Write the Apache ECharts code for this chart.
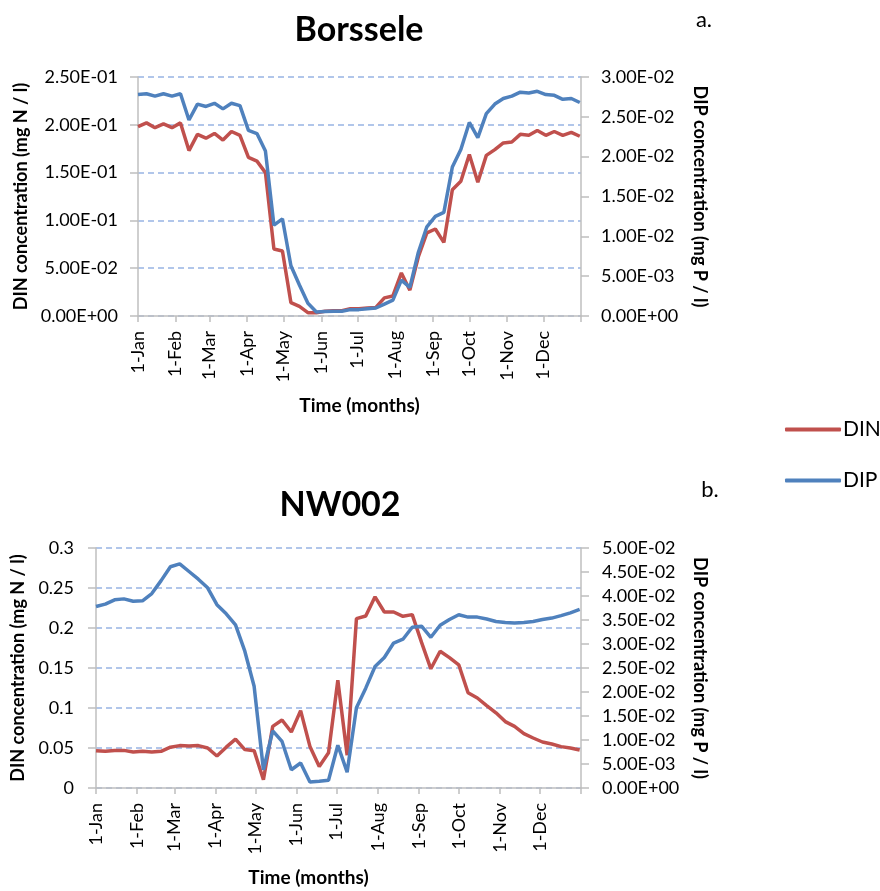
<!DOCTYPE html>
<html>
<head>
<meta charset="utf-8">
<script src="https://cdn.jsdelivr.net/npm/echarts@6/dist/echarts.min.js"></script>
<style>
  html, body { margin: 0; padding: 0; background: #fff; }
  #chart { width: 880px; height: 891px; }
</style>
</head>
<body>
<div id="chart"></div>
<script>
// Sampling days (day of year, weekly samples)
const sampleDays = [0, 7, 14, 21, 28, 35, 42, 49, 56, 63, 70, 77, 84, 91, 98, 105, 112, 119, 126, 133,
  140, 147, 154, 161, 168, 175, 182, 189, 196, 203, 210, 217, 224, 231, 238, 245, 252, 259, 266, 273,
  280, 287, 294, 301, 308, 315, 322, 329, 336, 343, 350, 357, 364];

// Month boundaries on the day-of-year axis and their labels
const monthStarts = [0, 31, 59, 90, 120, 151, 181, 212, 243, 273, 304, 334, 365];
const monthLabels = ['1-Jan', '1-Feb', '1-Mar', '1-Apr', '1-May', '1-Jun', '1-Jul', '1-Aug', '1-Sep', '1-Oct', '1-Nov', '1-Dec'];

// Borssele: DIN (mg N / l) and DIP (mg P / l)
const borsseleDIN = [0.198, 0.202, 0.197, 0.201, 0.197, 0.202, 0.173, 0.190, 0.186, 0.191, 0.184, 0.193, 0.189,
  0.166, 0.162, 0.150, 0.070, 0.068, 0.014, 0.010, 0.0035, 0.0035, 0.005, 0.0056, 0.0056, 0.0077, 0.0077,
  0.0084, 0.009, 0.019, 0.021, 0.045, 0.027, 0.062, 0.087, 0.091, 0.077, 0.132, 0.141, 0.169, 0.140,
  0.168, 0.174, 0.181, 0.182, 0.190, 0.189, 0.194, 0.189, 0.193, 0.189, 0.192, 0.188];
const borsseleDIP = [0.0278, 0.0279, 0.0276, 0.0279, 0.0276, 0.0279, 0.0246, 0.0266, 0.0263, 0.0267, 0.0260,
  0.0267, 0.0264, 0.0233, 0.0229, 0.0207, 0.0114, 0.0122, 0.0063, 0.0039, 0.0016, 0.0005, 0.00055, 0.0006,
  0.0006, 0.0008, 0.0008, 0.0009, 0.0010, 0.0015, 0.0020, 0.0045, 0.0036, 0.0080, 0.0112, 0.0125, 0.0130,
  0.0187, 0.0209, 0.0243, 0.0224, 0.0254, 0.0266, 0.0273, 0.0276, 0.0281, 0.0280, 0.0282, 0.0278, 0.0277,
  0.0272, 0.0273, 0.0268];

// NW002: DIN (mg N / l) and DIP (mg P / l)
const nw002DIN = [0.0467, 0.0458, 0.047, 0.047, 0.045, 0.0458, 0.045, 0.0458, 0.051, 0.053, 0.0525, 0.053,
  0.050, 0.040, 0.051, 0.061, 0.048, 0.0467, 0.0104, 0.077, 0.085, 0.070, 0.0967, 0.052, 0.027, 0.044,
  0.1346, 0.041, 0.2117, 0.215, 0.239, 0.220, 0.220, 0.2146, 0.2167, 0.182, 0.149, 0.171, 0.163, 0.154,
  0.119, 0.1125, 0.103, 0.094, 0.083, 0.077, 0.068, 0.0625, 0.0575, 0.055, 0.0517, 0.050, 0.0475];
const nw002DIP = [0.0378, 0.0383, 0.0392, 0.0394, 0.0389, 0.0390, 0.0405, 0.0432, 0.0461, 0.0467, 0.0451,
  0.0435, 0.0417, 0.0382, 0.0363, 0.0340, 0.0285, 0.0212, 0.0038, 0.0119, 0.0097, 0.0038, 0.0052, 0.00125,
  0.0014, 0.0016, 0.0089, 0.0033, 0.0167, 0.0208, 0.0253, 0.0272, 0.0302, 0.0310, 0.0335, 0.0337, 0.0314,
  0.0339, 0.0351, 0.0361, 0.0356, 0.0356, 0.0352, 0.0347, 0.0345, 0.0344, 0.0345, 0.0347, 0.0351, 0.0354,
  0.0359, 0.0365, 0.0372];

const FONT = 'Lato';
const AXIS_GREY = '#BFBFBF';
const GRID_BLUE = '#98B4E4';
const RED = '#C0504D';
const BLUE = '#4F81BD';

function sci(v) {
  if (v === 0) return '0.00E+00';
  const parts = v.toExponential(2).split('e');
  const e = parseInt(parts[1], 10);
  return parts[0] + 'E' + (e < 0 ? '-' : '+') + String(Math.abs(e)).padStart(2, '0');
}

function pairs(days, vals) {
  return days.map((d, i) => [d, vals[i]]);
}

function timeAxis(gridIndex, namePadding) {
  return {
    type: 'value', gridIndex: gridIndex, min: 0, max: 365,
    name: 'Time (months)', nameLocation: 'middle', nameGap: 80,
    nameTextStyle: { fontFamily: FONT, fontWeight: 'bold', fontSize: 19, color: '#000', padding: namePadding },
    axisLine: { show: true, onZero: false, lineStyle: { color: AXIS_GREY, width: 1.5 } },
    axisTick: { show: true, length: 6, customValues: monthStarts, lineStyle: { color: AXIS_GREY, width: 1.5 } },
    axisLabel: {
      customValues: monthStarts.slice(0, 12), rotate: 90, margin: 15,
      fontFamily: FONT, fontSize: 18, color: '#000',
      formatter: v => monthLabels[monthStarts.indexOf(v)]
    },
    splitLine: { show: false }
  };
}

function valueAxis(gridIndex, position, max, interval, formatter, name, nameGap, margin, withGrid) {
  return {
    type: 'value', gridIndex: gridIndex, position: position, min: 0, max: max, interval: interval,
    name: name, nameLocation: 'middle', nameGap: nameGap, nameRotate: position === 'left' ? 90 : -90,
    nameTextStyle: { fontFamily: FONT, fontWeight: 'bold', fontSize: 18, color: '#000' },
    axisLine: { show: true, lineStyle: { color: AXIS_GREY, width: 1.5 } },
    axisTick: { show: true, length: 8, lineStyle: { color: AXIS_GREY, width: 1.5 } },
    axisLabel: { margin: margin, fontFamily: FONT, fontSize: 18, color: '#000', formatter: formatter },
    splitLine: withGrid ? { show: true, lineStyle: { color: GRID_BLUE, type: [6, 4], width: 1.5 } } : { show: false }
  };
}

function line(name, xIndex, yIndex, data, color) {
  return {
    name: name, type: 'line', xAxisIndex: xIndex, yAxisIndex: yIndex, data: data,
    showSymbol: false, symbol: 'none', smooth: false, animation: false,
    lineStyle: { color: color, width: 3.5 }, itemStyle: { color: color }
  };
}

const chart = echarts.init(document.getElementById('chart'), null, { renderer: 'canvas' });

chart.setOption({
  backgroundColor: '#fff',
  animation: false,
  grid: [
    { left: 138, right: 299, top: 77, height: 239 },
    { left: 96, right: 299, top: 548, height: 240 }
  ],
  xAxis: [timeAxis(0, [0, 0, 0, 0]), timeAxis(1, [0, 60, 0, 0])],
  yAxis: [
    valueAxis(0, 'left', 0.25, 0.05, sci, 'DIN concentration (mg N / l)', 104, 20, true),
    valueAxis(0, 'right', 0.03, 0.005, sci, 'DIP concentration (mg P / l)', 110, 20, false),
    valueAxis(1, 'left', 0.3, 0.05, v => String(+v.toFixed(2)), 'DIN concentration (mg N / l)', 64, 22, true),
    valueAxis(1, 'right', 0.05, 0.005, sci, 'DIP concentration (mg P / l)', 110, 21, false)
  ],
  legend: {
    left: 780, top: 414, orient: 'vertical', itemGap: 30,
    itemWidth: 56, itemHeight: 4, icon: 'roundRect',
    textStyle: { fontFamily: FONT, fontSize: 21, color: '#000', padding: [0, 0, 0, -3] },
    data: ['DIN', 'DIP']
  },
  graphic: [
    { type: 'text', style: { text: 'Borssele', x: 359, y: 30, align: 'center', verticalAlign: 'middle', fontFamily: FONT, fontWeight: 'bold', fontSize: 34, fill: '#000' } },
    { type: 'text', style: { text: 'a.', x: 704, y: 20, align: 'center', verticalAlign: 'middle', fontFamily: FONT, fontSize: 22, fill: '#000' } },
    { type: 'text', style: { text: 'NW002', x: 340, y: 505, align: 'center', verticalAlign: 'middle', fontFamily: FONT, fontWeight: 'bold', fontSize: 34, fill: '#000' } },
    { type: 'text', style: { text: 'b.', x: 710, y: 490, align: 'center', verticalAlign: 'middle', fontFamily: FONT, fontSize: 22, fill: '#000' } }
  ],
  series: [
    line('DIN', 0, 0, pairs(sampleDays, borsseleDIN), RED),
    line('DIP', 0, 1, pairs(sampleDays, borsseleDIP), BLUE),
    line('DIN', 1, 2, pairs(sampleDays, nw002DIN), RED),
    line('DIP', 1, 3, pairs(sampleDays, nw002DIP), BLUE)
  ]
});
</script>
</body>
</html>
